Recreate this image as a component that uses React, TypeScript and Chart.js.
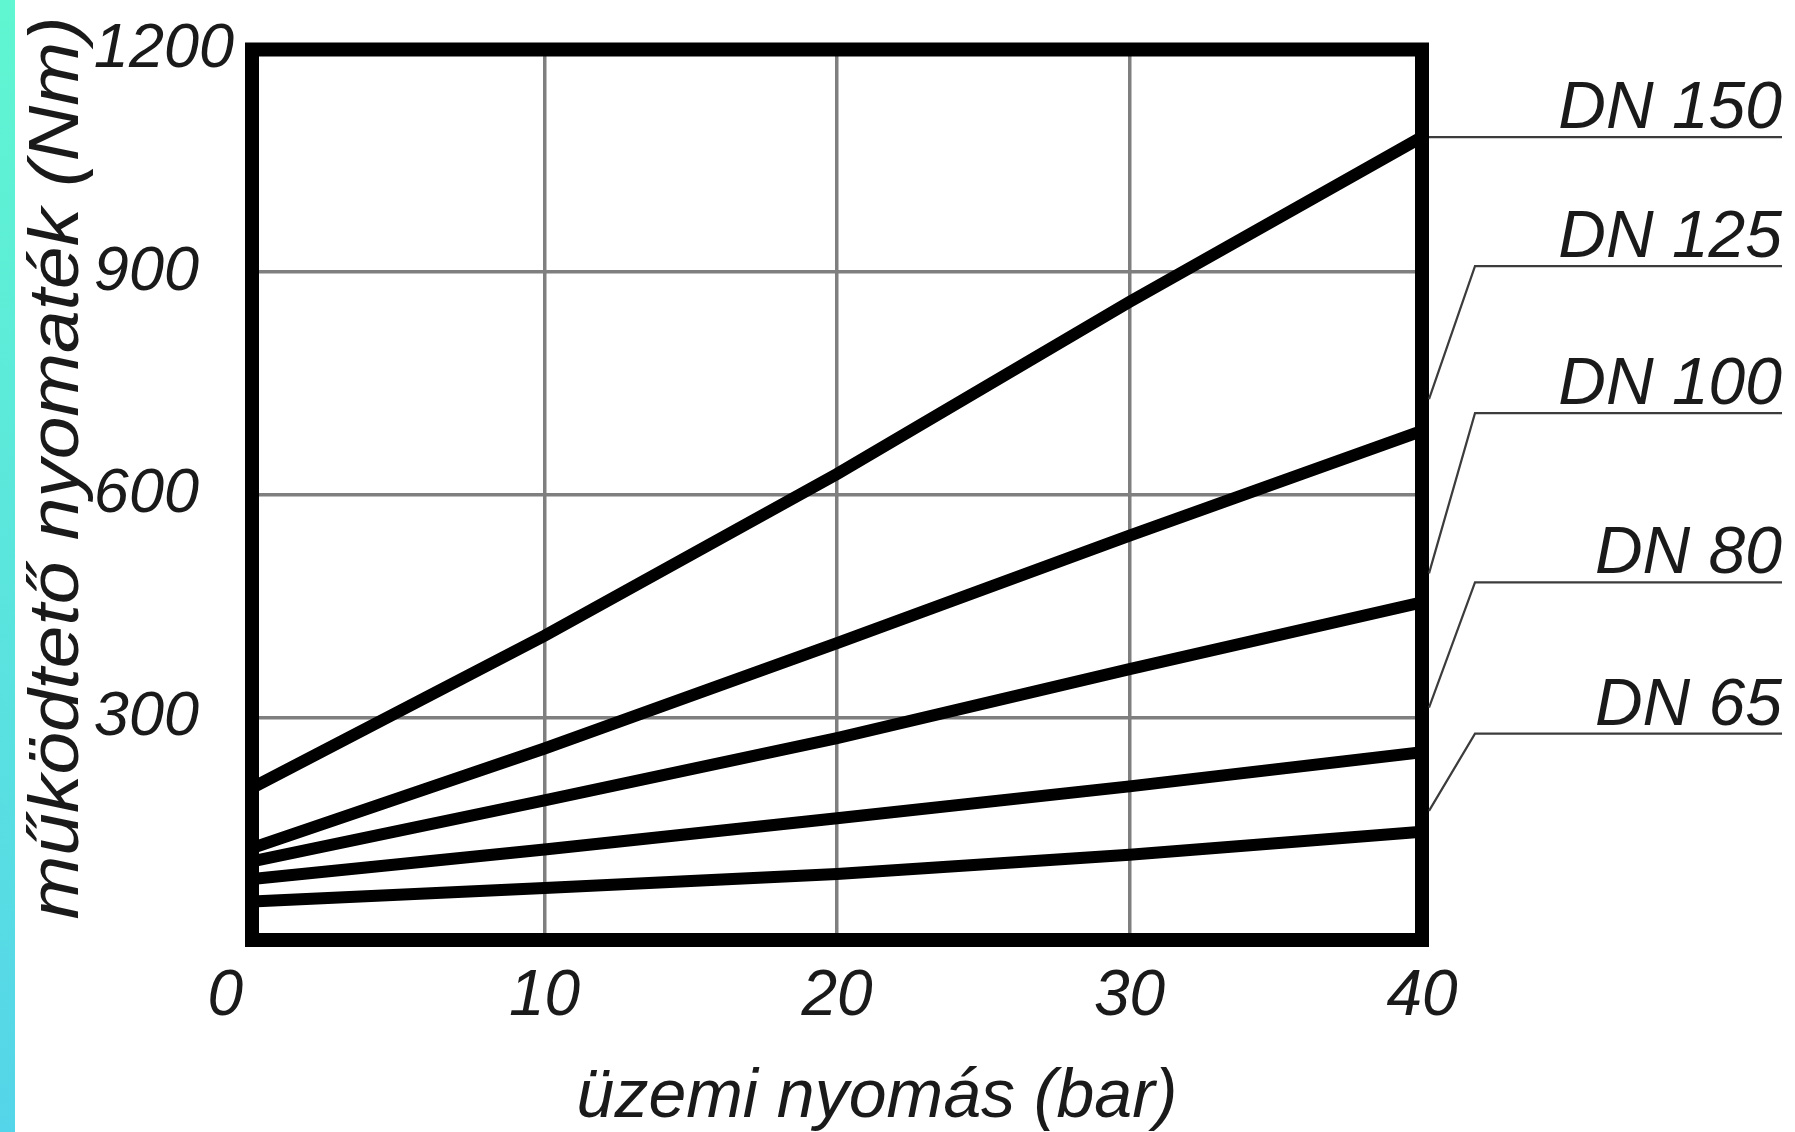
import React, { useEffect, useRef } from 'react';
import { Chart, registerables } from 'chart.js';

Chart.register(...registerables);

// ---- data ----
const pressure = [0, 10, 20, 30, 40];
const seriesNames = ['DN 150', 'DN 125', 'DN 100', 'DN 80', 'DN 65'];
const dn150 = [205, 410, 628, 860, 1082];
const dn125 = [124, 258, 400, 545, 686];
const dn100 = [106, 188, 272, 365, 455];
const dn80 = [82, 122, 164, 207, 253];
const dn65 = [52, 70, 89, 115, 146];
const xTicks = [0, 10, 20, 30, 40];
const yTicks = [300, 600, 900, 1200];
const xTitle = 'üzemi nyomás (bar)';
const yTitle = 'működtető nyomaték (Nm)';

// label leader levels (in torque units) and where each leader touches the frame
const labelLevels = [1082, 908, 710, 482, 278];
const leaderAnchors = [1082, 729, 494, 313, 174];

const FONT = "'Liberation Sans', Arial, sans-serif";

const annotPlugin = {
  id: 'annot',
  afterDatasetsDraw(chart: any) {
    const { ctx, chartArea: a, scales } = chart;
    const y = scales.y;
    ctx.save();
    // frame
    ctx.lineWidth = 14;
    ctx.strokeStyle = '#000';
    ctx.strokeRect(a.left, a.top, a.right - a.left, a.bottom - a.top);

    // leaders + labels
    ctx.lineWidth = 2.2;
    ctx.strokeStyle = '#3c3c3c';
    ctx.fillStyle = '#1a1a1a';
    ctx.font = `italic 66px ${FONT}`;
    ctx.textAlign = 'right';
    ctx.textBaseline = 'alphabetic';
    seriesNames.forEach((name, i) => {
      const ya = y.getPixelForValue(leaderAnchors[i]);
      const yl = y.getPixelForValue(labelLevels[i]);
      const kx = a.right + 53;
      const ex = a.right + 360;
      ctx.beginPath();
      ctx.moveTo(a.right + 7, ya);
      ctx.lineTo(kx, yl);
      ctx.lineTo(ex, yl);
      ctx.stroke();
      ctx.fillText(name, ex, yl - 9);
    });

    // x title
    ctx.font = `italic 68px ${FONT}`;
    ctx.textAlign = 'center';
    ctx.fillText(xTitle, 877, 1117);

    // y title (stretched slightly along its length, like the source)
    ctx.translate(78, 468);
    ctx.rotate(-Math.PI / 2);
    ctx.scale(1.095, 1);
    ctx.font = `italic 70px ${FONT}`;
    ctx.textAlign = 'center';
    ctx.fillText(yTitle, 0, 0);
    ctx.restore();
  },
};

export default function App() {
  const ref = useRef<HTMLCanvasElement | null>(null);

  useEffect(() => {
    if (!ref.current) return;
    const series = [dn150, dn125, dn100, dn80, dn65];
    const chart = new Chart(ref.current, {
      type: 'line',
      data: {
        datasets: series.map((vals, i) => ({
          label: seriesNames[i],
          data: pressure.map((p, j) => ({ x: p, y: vals[j] })),
          borderColor: '#000',
          borderWidth: 12,
          pointRadius: 0,
          tension: 0,
          fill: false,
          borderCapStyle: 'butt',
        })),
      },
      options: {
        responsive: false,
        devicePixelRatio: 1,
        animation: false,
        layout: { padding: { left: 0, top: 48, right: 373, bottom: 0 } },
        plugins: { legend: { display: false }, tooltip: { enabled: false } },
        scales: {
          x: {
            type: 'linear',
            min: 0,
            max: 40,
            afterBuildTicks: (s: any) => {
              s.ticks = xTicks.map((v) => ({ value: v }));
            },
            afterFit: (s: any) => {
              s.height = 192;
            },
            ticks: {
              color: '#1a1a1a',
              padding: 25,
              font: { family: FONT, size: 64, style: 'italic', lineHeight: 1 },
              callback: (v: any) => (v === 0 ? '0   ' : String(v)),
            },
            grid: { color: '#7f7f7f', lineWidth: 3.5, drawTicks: false },
            border: { display: false },
          },
          y: {
            type: 'linear',
            min: 0,
            max: 1200,
            afterBuildTicks: (s: any) => {
              s.ticks = yTicks.map((v) => ({ value: v }));
            },
            afterFit: (s: any) => {
              s.width = 252;
            },
            ticks: {
              color: '#1a1a1a',
              padding: 18,
              font: { family: FONT, size: 63, style: 'italic', lineHeight: 1 },
              // labels sit left-aligned in the source: pad short ones with a figure space
              callback: (v: any) => String(v).padEnd(4, '\u2007'),
            },
            grid: { color: '#7f7f7f', lineWidth: 3.5, drawTicks: false },
            border: { display: false },
          },
        },
      },
      plugins: [annotPlugin],
    } as any);
    return () => chart.destroy();
  }, []);

  return (
    <div style={{ position: 'absolute', left: 0, top: 0, width: 1795, height: 1132, background: '#fff' }}>
      <div
        style={{
          position: 'absolute',
          left: 0,
          top: 0,
          width: 15,
          height: 1132,
          background: 'linear-gradient(#60f6d1, #55d5e9)',
        }}
      />
      <canvas ref={ref} width={1795} height={1132} style={{ display: 'block' }} />
    </div>
  );
}
